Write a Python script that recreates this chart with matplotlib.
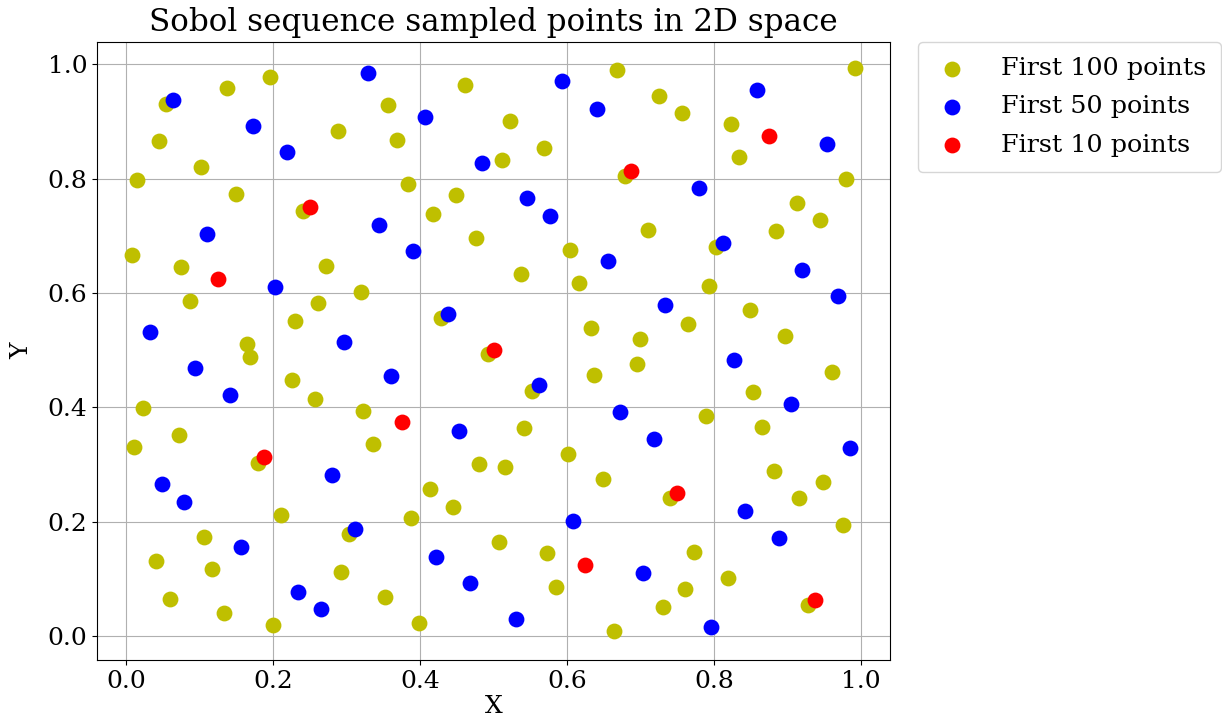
import matplotlib
matplotlib.use("Agg")
from matplotlib import pyplot as plt

plt.rcParams['font.family'] = 'DejaVu Serif'

# first 100 points (yellow)
x100 = [0.195, 0.137, 0.054, 0.288, 0.044, 0.102, 0.015, 0.149, 0.461, 0.668,
        0.356, 0.522, 0.368, 0.569, 0.511, 0.383, 0.449, 0.679, 0.726, 0.757,
        0.992, 0.823, 0.835, 0.980, 0.241, 0.007, 0.075, 0.272, 0.319, 0.087,
        0.261, 0.230, 0.164, 0.418, 0.476, 0.604, 0.538, 0.616, 0.428, 0.633,
        0.913, 0.945, 0.711, 0.885, 0.803, 0.793, 0.850, 0.765, 0.700, 0.897,
        0.168, 0.226, 0.257, 0.022, 0.322, 0.071, 0.011, 0.179, 0.492, 0.553,
        0.637, 0.542, 0.336, 0.601, 0.480, 0.515, 0.649, 0.414, 0.695, 0.961,
        0.854, 0.789, 0.866, 0.882, 0.949, 0.741, 0.916, 0.210, 0.106, 0.040,
        0.117, 0.303, 0.292, 0.059, 0.133, 0.199, 0.445, 0.387, 0.507, 0.573,
        0.585, 0.352, 0.399, 0.664, 0.976, 0.773, 0.819, 0.761, 0.929, 0.731]
y100 = [0.978, 0.958, 0.930, 0.883, 0.866, 0.821, 0.798, 0.773, 0.963, 0.990,
        0.928, 0.901, 0.868, 0.853, 0.833, 0.791, 0.771, 0.805, 0.945, 0.915,
        0.993, 0.895, 0.838, 0.800, 0.744, 0.666, 0.646, 0.648, 0.601, 0.586,
        0.583, 0.551, 0.510, 0.738, 0.696, 0.675, 0.634, 0.618, 0.556, 0.539,
        0.758, 0.728, 0.710, 0.708, 0.680, 0.613, 0.571, 0.546, 0.519, 0.524,
        0.488, 0.447, 0.414, 0.398, 0.394, 0.351, 0.331, 0.303, 0.493, 0.429,
        0.456, 0.364, 0.336, 0.318, 0.301, 0.296, 0.274, 0.257, 0.476, 0.461,
        0.426, 0.384, 0.366, 0.289, 0.269, 0.242, 0.241, 0.212, 0.174, 0.132,
        0.117, 0.179, 0.112, 0.064, 0.040, 0.019, 0.226, 0.207, 0.164, 0.145,
        0.085, 0.069, 0.022, 0.008, 0.194, 0.147, 0.101, 0.082, 0.055, 0.050]

# first 50 points (blue)
x50 = [0.329, 0.063, 0.172, 0.219, 0.593, 0.407, 0.641, 0.484, 0.859, 0.954,
       0.780, 0.110, 0.203, 0.032, 0.296, 0.546, 0.577, 0.344, 0.391, 0.656,
       0.438, 0.812, 0.920, 0.969, 0.734, 0.094, 0.141, 0.280, 0.048, 0.360,
       0.562, 0.453, 0.672, 0.827, 0.905, 0.719, 0.985, 0.079, 0.156, 0.312,
       0.234, 0.265, 0.608, 0.422, 0.468, 0.530, 0.843, 0.889, 0.703, 0.796]
y50 = [0.985, 0.937, 0.892, 0.846, 0.970, 0.908, 0.922, 0.828, 0.955, 0.860,
       0.783, 0.703, 0.611, 0.531, 0.515, 0.766, 0.735, 0.719, 0.673, 0.656,
       0.563, 0.688, 0.641, 0.594, 0.579, 0.468, 0.422, 0.282, 0.266, 0.454,
       0.439, 0.359, 0.391, 0.483, 0.406, 0.344, 0.329, 0.234, 0.156, 0.187,
       0.077, 0.047, 0.201, 0.139, 0.092, 0.030, 0.219, 0.171, 0.110, 0.015]

# first 10 points (red)
x10 = [0.5, 0.75, 0.25, 0.375, 0.875, 0.625, 0.125, 0.1875, 0.6875, 0.9375]
y10 = [0.5, 0.25, 0.75, 0.375, 0.875, 0.125, 0.625, 0.3125, 0.8125, 0.0625]

fig = plt.figure(figsize=(12.22, 7.24), dpi=100)
ax = fig.add_axes([0.0794, 0.0884, 0.6489, 0.8536])

ax.scatter(x100, y100, s=130, c='y', linewidths=0, label='First 100 points', zorder=2)
ax.scatter(x50, y50, s=130, c='b', linewidths=0, label='First 50 points', zorder=3)
ax.scatter(x10, y10, s=130, c='r', linewidths=0, label='First 10 points', zorder=4)

ax.set_xlim(-0.04, 1.04)
ax.set_ylim(-0.042, 1.039)
ax.grid(True, zorder=0)
ax.set_axisbelow(True)
ax.tick_params(labelsize=18)
ax.set_title('Sobol sequence sampled points in 2D space', fontsize=22.3, pad=8)
ax.set_xlabel('X', fontsize=18, labelpad=2)
ax.set_ylabel('Y', fontsize=18, labelpad=10)
ax.legend(loc='upper left', bbox_to_anchor=(1.035, 1.0), borderaxespad=0,
          fontsize=18.3, borderpad=0.6, labelspacing=0.6,
          handlelength=1.5, handletextpad=1.17)

fig.savefig('out.png', dpi=100)
